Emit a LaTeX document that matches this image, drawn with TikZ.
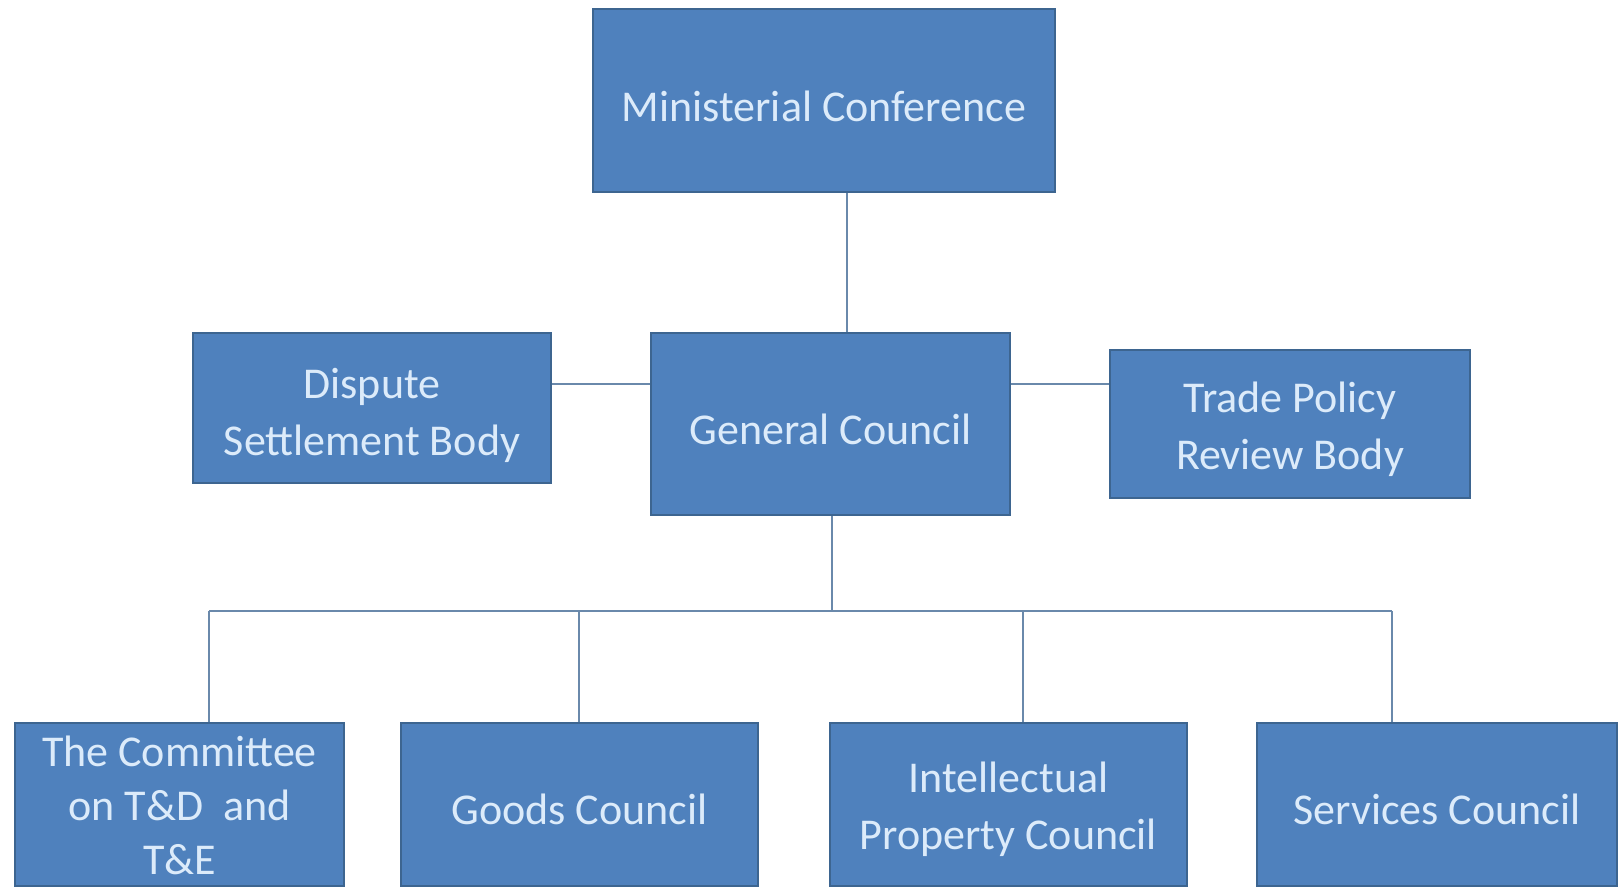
\documentclass[tikz,border=0pt]{standalone}
\usepackage{fontspec}
\setmainfont{Carlito}
\definecolor{boxfill}{HTML}{4F81BD}
\definecolor{boxline}{HTML}{3D6590}
\definecolor{boxtext}{HTML}{DCEBFA}
\definecolor{conn}{HTML}{6A89AB}
\begin{document}
\begin{tikzpicture}[x=1pt,y=-1pt,
  orgbox/.style={draw=boxline, line width=2pt, fill=boxfill, inner sep=0pt},
  orgtext/.style={text=boxtext, align=center, inner sep=0pt,
    font=\fontsize{44}{57}\selectfont},
  link/.style={draw=conn, line width=2pt}]
\useasboundingbox (0,0) rectangle (1624,887);
\fill[white] (0,0) rectangle (1624,887);
\node[orgbox, minimum width=462pt, minimum height=183pt] (mc) at (824,100.5) {};
\node[orgbox, minimum width=358pt, minimum height=150pt] (dsb) at (372,408) {};
\node[orgbox, minimum width=359pt, minimum height=182pt] (gc) at (830.5,424) {};
\node[orgbox, minimum width=360pt, minimum height=148pt] (tpr) at (1290,424) {};
\node[orgbox, minimum width=329pt, minimum height=163pt] (ctd) at (179.5,804.5) {};
\node[orgbox, minimum width=357pt, minimum height=163pt] (goods) at (579.5,804.5) {};
\node[orgbox, minimum width=357pt, minimum height=163pt] (ipc) at (1008.5,804.5) {};
\node[orgbox, minimum width=360pt, minimum height=163pt] (svc) at (1437,804.5) {};
\node[orgtext] (mct) at ([yshift=-6pt]mc.center) {Ministerial Conference};
\node[orgtext] (dsbt) at ([yshift=-7pt]dsb.center) {Dispute\\Settlement Body};
\node[orgtext] (gct) at ([yshift=-5pt]gc.center) {General Council};
\node[orgtext] (tprt) at ([yshift=-5.5pt]tpr.center) {Trade Policy\\Review Body};
\node[orgtext, font=\fontsize{44}{54}\selectfont] (ctdt) at ([yshift=-1pt]ctd.center) {The Committee\\on T\&D\ \ and\\T\&E};
\node[orgtext] (goodst) at ([yshift=-5pt]goods.center) {Goods Council};
\node[orgtext] (ipct) at ([yshift=-5pt]ipc.center) {Intellectual\\Property Council};
\node[orgtext] (svct) at ([yshift=-5pt]svc.center) {Services Council};
\coordinate (vtop) at (847,0);
\coordinate (hmid) at (0,384);
\coordinate (vgc) at (832,0);
\coordinate (bus) at (0,611);
\coordinate (d1) at (209,0);
\coordinate (d2) at (579,0);
\coordinate (d3) at (1023,0);
\coordinate (d4) at (1392,0);
\draw[link] (mc.south -| vtop) -- (gc.north -| vtop);
\draw[link] (dsb.east |- hmid) -- (gc.west |- hmid);
\draw[link] (gc.east |- hmid) -- (tpr.west |- hmid);
\draw[link] (gc.south -| vgc) -- (vgc |- bus);
\draw[link] (d1 |- bus) -- (d4 |- bus);
\draw[link] (d1 |- bus) -- (ctd.north -| d1);
\draw[link] (d2 |- bus) -- (goods.north -| d2);
\draw[link] (d3 |- bus) -- (ipc.north -| d3);
\draw[link] (d4 |- bus) -- (svc.north -| d4);
\end{tikzpicture}
\end{document}
